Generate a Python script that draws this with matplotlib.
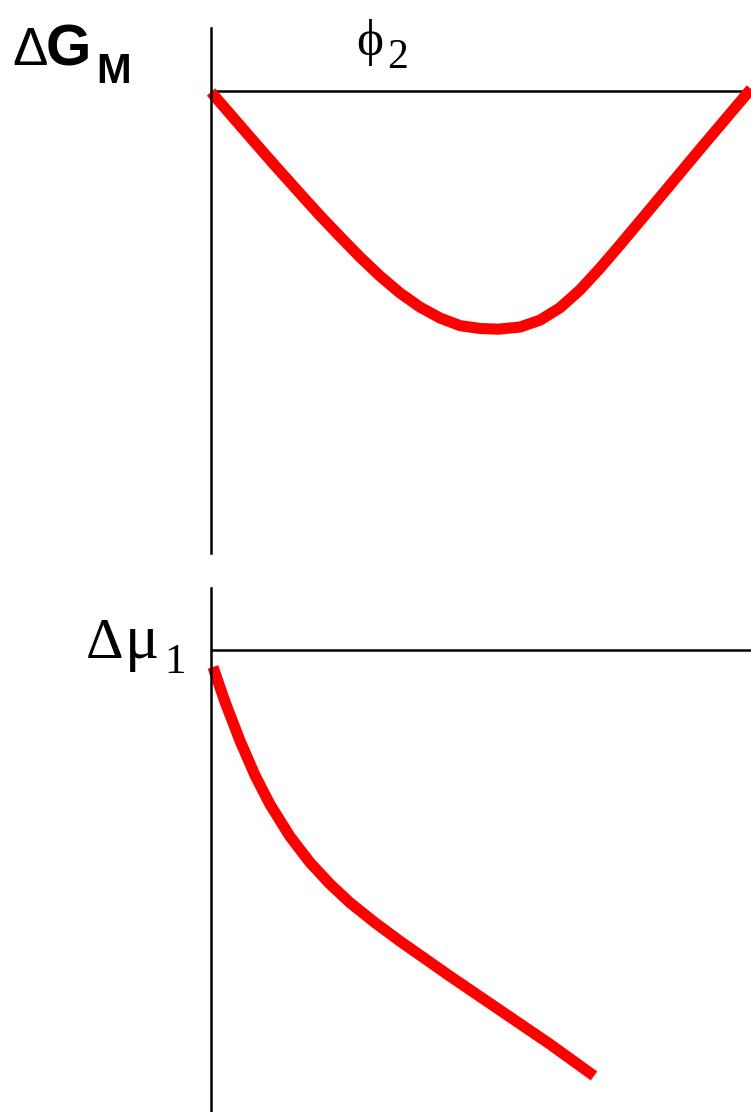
import numpy as np
import matplotlib.pyplot as plt

W, H = 751, 1112

# free energy of mixing vs composition (phi2); x in [0, 1], y scaled so the minimum is -1
phi2 = [0.0, 0.0352, 0.0722, 0.1185, 0.1648, 0.2019, 0.2389, 0.2759, 0.3130,
        0.3500, 0.3870, 0.4241, 0.4611, 0.4981, 0.5315, 0.5722, 0.6093, 0.6463,
        0.6833, 0.7204, 0.7574, 0.7944, 0.8500, 0.9056, 0.9611, 1.0]
dG_mix = [-0.004, -0.096, -0.193, -0.313, -0.430, -0.523, -0.611, -0.697, -0.777,
          -0.848, -0.907, -0.953, -0.985, -0.997, -1.0, -0.991, -0.962, -0.910,
          -0.835, -0.744, -0.646, -0.546, -0.395, -0.244, -0.095, 0.009]

# chemical potential change of component 1 vs phi2
phi2_mu = [0.0037, 0.0259, 0.0537, 0.0815, 0.1093, 0.1463, 0.1833, 0.2204,
           0.2574, 0.3037, 0.3500, 0.4426, 0.5352, 0.6278, 0.7093]
dmu1 = [-0.17, -0.518, -0.908, -1.253, -1.545, -1.865, -2.125, -2.341,
        -2.527, -2.727, -2.912, -3.262, -3.602, -3.942, -4.259]

fig = plt.figure(figsize=(W / 100, H / 100), dpi=100)

RED = '#ff0000'
LW_AX = 1.8
LW_CURVE = 8.0


def px(x, y):
    return x / W, 1 - y / H


def setup(ax, ylim):
    ax.set_xlim(0, 1)
    ax.set_ylim(*ylim)
    for s in ['top', 'right', 'bottom']:
        ax.spines[s].set_visible(False)
    ax.spines['left'].set_linewidth(LW_AX)
    ax.set_xticks([])
    ax.set_yticks([])
    ax.axhline(0, color='black', lw=LW_AX)
    ax.patch.set_alpha(0)


ax1 = fig.add_axes([211 / W, 1 - 553 / H, 540 / W, 525 / H])
setup(ax1, (-1.94, 0.265))
ax1.plot(phi2, dG_mix, color=RED, lw=LW_CURVE, solid_capstyle='butt',
         solid_joinstyle='round', clip_on=False)

ax2 = fig.add_axes([211 / W, 0, 540 / W, 524 / H])
setup(ax2, (-4.62, 0.62))
ax2.plot(phi2_mu, dmu1, color=RED, lw=LW_CURVE, solid_capstyle='butt',
         solid_joinstyle='round', clip_on=False)

sans = ['Liberation Sans', 'DejaVu Sans']
serif = ['Liberation Serif', 'DejaVu Serif']

# top-left label: ΔG_M
fig.text(*px(12, 65), '\u0394', family=sans, fontsize=38, va='baseline', ha='left')
fig.text(*px(46, 66), 'G', family=sans, fontsize=42, fontweight='bold', va='baseline', ha='left')
fig.text(*px(96, 83), 'M', family=sans, fontsize=30, fontweight='bold', va='baseline', ha='left')

# x label: phi_2
fig.text(*px(356, 55), '\u03d5', family=serif, fontsize=37, va='baseline', ha='left')
fig.text(*px(387, 68), '2', family=serif, fontsize=30, va='baseline', ha='left')

# bottom label: Δμ_1
fig.text(*px(86, 658), '\u0394', family=serif, fontsize=42, va='baseline', ha='left')
fig.text(*px(125, 658), '\u03bc', family=serif, fontsize=46, va='baseline', ha='left')
fig.text(*px(164, 673), '1', family=serif, fontsize=31, va='baseline', ha='left')

fig.savefig('out.png', dpi=100)
